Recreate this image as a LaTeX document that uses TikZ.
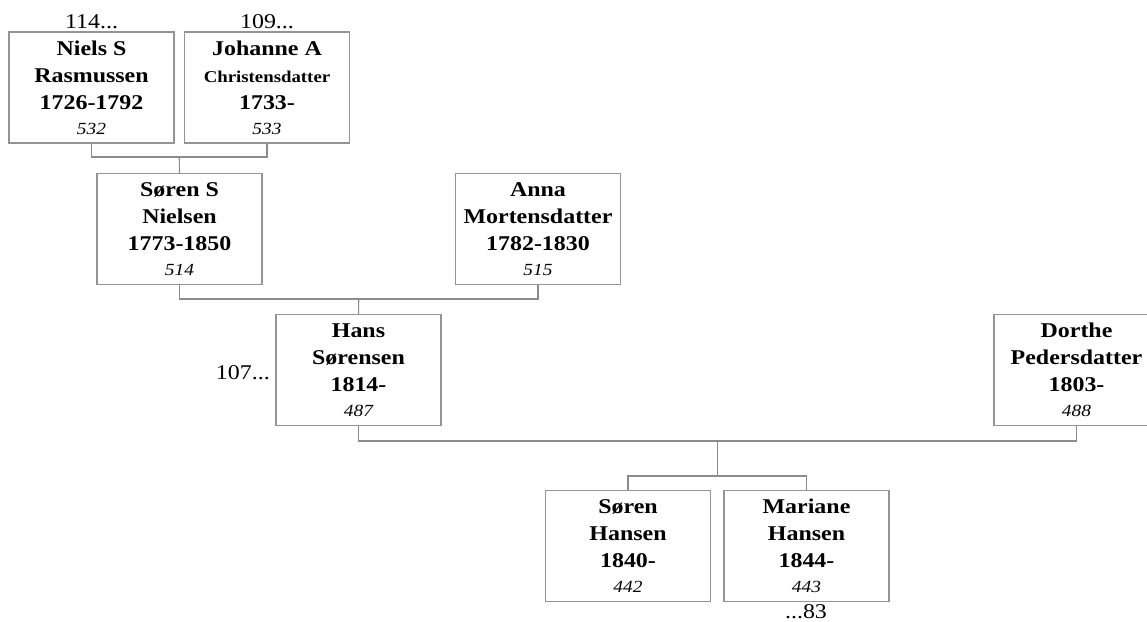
\documentclass[tikz,border=0pt]{standalone}
\usepackage{fontspec}
\setmainfont{Liberation Serif}[FakeStretch=1.14]
\begin{document}
\begin{tikzpicture}[x=1pt,y=-1pt,
  person/.style={draw=black!42,line width=1.3pt,fill=white,minimum width=165pt,minimum height=111pt,
    inner sep=0pt,align=center,text=black,font=\fontsize{21}{27}\selectfont\bfseries},
  link/.style={draw=black!45,line width=1.1pt},
  more/.style={inner sep=0pt,font=\fontsize{21}{24}\selectfont}]
\useasboundingbox (0,0) rectangle (1147,621);
\newcommand{\idn}[1]{\\[-2pt]{\fontsize{17}{20}\selectfont\mdseries\itshape #1}}
\node[person] (n532) at (91.5,87.5) {Niels S\\Rasmussen\\1726-1792\idn{532}};
\node[person] (n533) at (267,87.5) {Johanne A\\{\fontsize{16.5}{20}\selectfont Christensdatter}\\1733-\idn{533}};
\node[person] (n514) at (179.5,229) {Søren S\\Nielsen\\1773-1850\idn{514}};
\node[person] (n515) at (538,229) {Anna\\Mortensdatter\\1782-1830\idn{515}};
\node[person] (n487) at (358.5,370) {Hans\\Sørensen\\1814-\idn{487}};
\node[person] (n488) at (1076.5,370) {Dorthe\\Pedersdatter\\1803-\idn{488}};
\node[person] (n442) at (628,546) {Søren\\Hansen\\1840-\idn{442}};
\node[person] (n443) at (806.5,546) {Mariane\\Hansen\\1844-\idn{443}};
\node[more,anchor=base] (t114) at (91.5,28) {114...};
\node[more,anchor=base] (t109) at (267,28) {109...};
\node[more,anchor=base east] (t107) at (270,379) {107...};
\node[more,anchor=base] (t83) at (806,618) {...83};
\coordinate (j1) at (179.25,157);
\coordinate (j2) at (358.75,299);
\coordinate (j3) at (717.5,441);
\coordinate (j4) at (717.5,476);
\draw[link] (n532.south) |- (j1) -| (n533.south);
\draw[link] (j1) -- (n514.north);
\draw[link] (n514.south) |- (j2) -| (n515.south);
\draw[link] (j2) -- (n487.north);
\draw[link] (n487.south) |- (j3) -| (n488.south);
\draw[link] (j3) -- (j4);
\draw[link] (n442.north) |- (j4) -| (n443.north);
\end{tikzpicture}
\end{document}
